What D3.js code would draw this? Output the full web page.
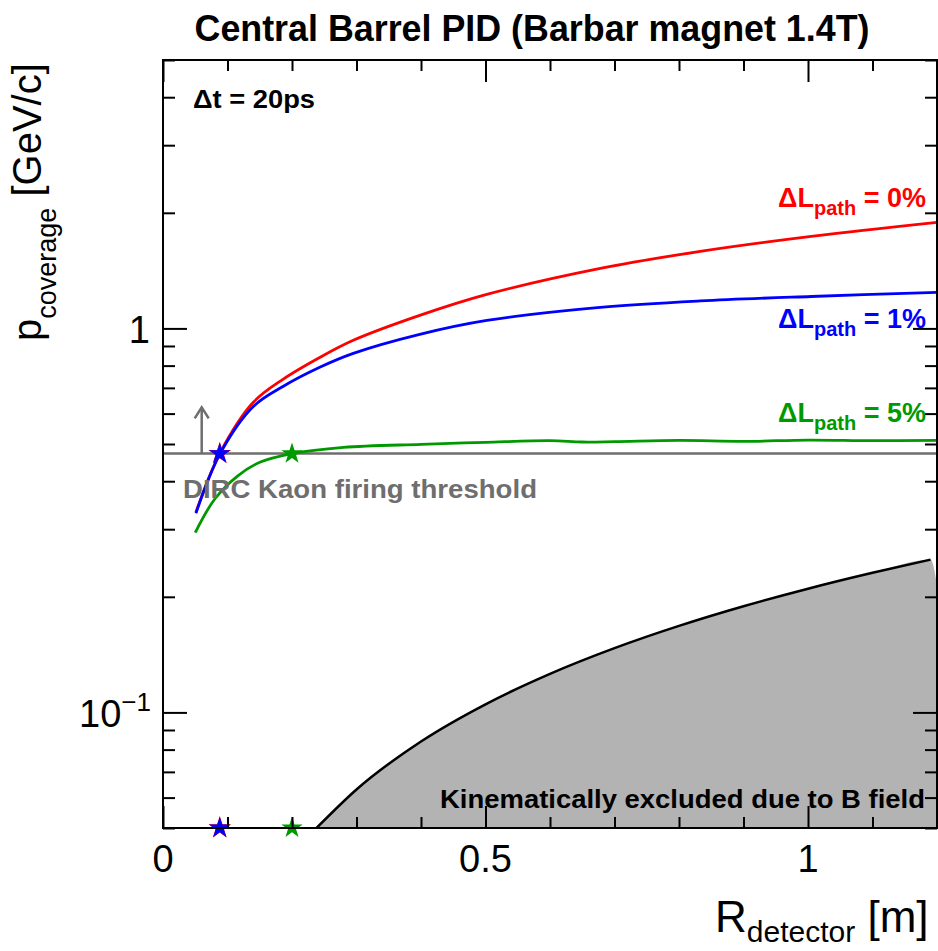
<!DOCTYPE html>
<html><head><meta charset="utf-8">
<script src="https://cdn.jsdelivr.net/npm/d3@7"></script>
<style>
body{margin:0;background:#fff}
text{font-family:"Liberation Sans",Arial,Helvetica,sans-serif}
</style>
</head><body>
<svg id="chart" width="938" height="951"></svg>
<script>
// p_coverage [GeV/c] versus R_detector [m] for three path-length uncertainties
const rPath0 = [0.051, 0.088, 0.14, 0.186, 0.243, 0.295, 0.398, 0.502, 0.678, 0.833, 1.005, 1.2];
const pPath0 = [0.332, 0.472, 0.642, 0.737, 0.840, 0.931, 1.081, 1.226, 1.433, 1.587, 1.736, 1.888];

const rPath1 = [0.051, 0.088, 0.14, 0.186, 0.243, 0.295, 0.398, 0.502, 0.678, 0.833, 1.005, 1.2];
const pPath1 = [0.330, 0.470, 0.626, 0.706, 0.792, 0.861, 0.965, 1.049, 1.134, 1.179, 1.211, 1.241];

const rPath5 = [0.05, 0.08, 0.115, 0.15, 0.2, 0.28, 0.4, 0.5, 0.6, 0.65, 0.7, 0.8, 0.9, 1.0, 1.1, 1.2];
const pPath5 = [0.294, 0.359, 0.412, 0.448, 0.472, 0.49, 0.499, 0.505, 0.51, 0.506, 0.507, 0.511, 0.508, 0.512, 0.51, 0.511];

// DIRC kaon firing threshold and where each curve crosses it
const kaonThreshold = 0.472;
const arrowTop = 0.623;
const arrowR = 0.06;
const crossR = [0.088, 0.2];            // 0% / 1% crossing, 5% crossing
const crossColor = ["#0000ff", "#009900"];

// Minimum transverse momentum reaching R_detector in the field
const rKin = [0.238, 0.3, 0.4, 0.5, 0.6, 0.7, 0.8, 0.9, 1.0, 1.1, 1.19];
const pKin = [0.05, 0.063, 0.084, 0.105, 0.126, 0.147, 0.168, 0.189, 0.21, 0.231, 0.25];
const rKinEdge = 1.2, pKinEdge = 0.215;

// Axis ticks
const xMajor = [0, 0.5, 1];
const xMinor = [0.1, 0.2, 0.3, 0.4, 0.6, 0.7, 0.8, 0.9, 1.1];
const yMajor = [0.1, 1];
const yMinor = [0.05, 0.06, 0.07, 0.08, 0.09, 0.2, 0.3, 0.4, 0.5, 0.6, 0.7, 0.8, 0.9, 2, 3, 4, 5];

const svg = d3.select("#chart");
const L = 163, R = 937, T = 60, B = 828;
const x = d3.scaleLinear().domain([0, 1.2]).range([L, R]);
const y = d3.scaleLog().domain([0.05, 5]).range([B, T]);

svg.append("defs").append("clipPath").attr("id", "plot")
  .append("rect").attr("x", L).attr("y", T).attr("width", R - L).attr("height", B - T);

const plot = svg.append("g").attr("clip-path", "url(#plot)");

// Kinematically excluded region
const kinFill = rKin.map((r, i) => [r, pKin[i]]).concat([[rKinEdge, pKinEdge]]);
plot.append("path")
  .attr("d", d3.area().x(d => x(d[0])).y0(y(0.05)).y1(d => y(d[1])).curve(d3.curveMonotoneX)(kinFill))
  .attr("fill", "#b3b3b3");
plot.append("path")
  .attr("d", d3.line().x((r) => x(r)).y((r, i) => y(pKin[i])).curve(d3.curveMonotoneX)(rKin))
  .attr("fill", "none").attr("stroke", "#000").attr("stroke-width", 2.5);

// Threshold line
plot.append("line")
  .attr("x1", L).attr("x2", R).attr("y1", y(kaonThreshold)).attr("y2", y(kaonThreshold))
  .attr("stroke", "#6e6e6e").attr("stroke-width", 2.5);

// Arrow above threshold
const ax = x(arrowR), ayTop = y(arrowTop);
plot.append("line").attr("x1", ax).attr("x2", ax)
  .attr("y1", y(kaonThreshold)).attr("y2", ayTop)
  .attr("stroke", "#6e6e6e").attr("stroke-width", 2.5);
plot.append("polyline")
  .attr("points", `${ax - 7},${ayTop + 11} ${ax},${ayTop} ${ax + 7},${ayTop + 11}`)
  .attr("fill", "none").attr("stroke", "#6e6e6e").attr("stroke-width", 2.5);

// Coverage curves
const curve = (rs, ps, color) => {
  plot.append("path")
    .attr("d", d3.line().x(r => x(r)).y((r, i) => y(ps[i])).curve(d3.curveCatmullRom.alpha(0.5))(rs))
    .attr("fill", "none").attr("stroke", color).attr("stroke-width", 2.8);
};
curve(rPath5, pPath5, "#009900");
curve(rPath0, pPath0, "#ff0000");
curve(rPath1, pPath1, "#0000ff");

// Crossing stars (on threshold and projected onto the axis)
const star = d3.symbol().type(d3.symbolStar);
const drawStar = (r, p, color, size) => {
  svg.append("path").attr("d", star.size(size)())
    .attr("transform", `translate(${x(r)},${y(p)})`).attr("fill", color);
};
drawStar(crossR[0], kaonThreshold, "#ff0000", 160);
drawStar(crossR[0], 0.05, "#ff0000", 160);
crossR.forEach((r, i) => {
  drawStar(r, kaonThreshold, crossColor[i], 140);
  drawStar(r, 0.05, crossColor[i], 140);
});

// Axes ticks (all pointing inward)
const tickAxis = (axisFn, scale, vals, len, tx, ty) => {
  svg.append("g").attr("transform", `translate(${tx},${ty})`)
    .call(axisFn(scale).tickValues(vals).tickSize(len).tickFormat(""))
    .call(g => g.select(".domain").remove())
    .selectAll("line").attr("stroke", "#000").attr("stroke-width", 2);
};
tickAxis(d3.axisBottom, x, xMajor, -22, 0, B);
tickAxis(d3.axisBottom, x, xMinor, -11, 0, B);
tickAxis(d3.axisTop, x, xMajor, -22, 0, T);
tickAxis(d3.axisTop, x, xMinor, -11, 0, T);
tickAxis(d3.axisLeft, y, yMajor, -24, L, 0);
tickAxis(d3.axisLeft, y, yMinor, -12, L, 0);
tickAxis(d3.axisRight, y, yMajor, -24, R, 0);
tickAxis(d3.axisRight, y, yMinor, -12, R, 0);

// Frame
svg.append("rect").attr("x", L).attr("y", T).attr("width", R - L).attr("height", B - T)
  .attr("fill", "none").attr("stroke", "#000").attr("stroke-width", 2);

// Tick labels
const xLabels = ["0", "0.5", "1"];
xMajor.forEach((v, i) => {
  svg.append("text").attr("x", x(v)).attr("y", 872).attr("text-anchor", "middle")
    .attr("font-size", 38).text(xLabels[i]);
});
svg.append("text").attr("x", 150).attr("y", y(1) + 15).attr("text-anchor", "end")
  .attr("font-size", 38).text("1");
const tTen = svg.append("text").attr("x", 151).attr("y", y(0.1) + 15).attr("text-anchor", "end")
  .attr("font-size", 38);
tTen.append("tspan").text("10");
tTen.append("tspan").attr("font-size", 26).attr("dy", -16).text("\u22121");

// Axis titles
const xt = svg.append("text").attr("x", 715).attr("y", 932).attr("font-size", 44);
xt.append("tspan").text("R");
xt.append("tspan").attr("font-size", 30).attr("dy", 10).text("detector");
xt.append("tspan").attr("dy", -10).text(" [m]");

const yt = svg.append("text").attr("transform", "translate(41,341) rotate(-90)").attr("font-size", 40);
yt.append("tspan").text("p");
yt.append("tspan").attr("font-size", 27).attr("dy", 15).text("coverage");
yt.append("tspan").attr("dy", -15).text(" [GeV/c]");

// Title
svg.append("text").attr("x", 532).attr("y", 41).attr("text-anchor", "middle")
  .attr("font-size", 36).attr("font-weight", "bold")
  .attr("textLength", 675).attr("lengthAdjust", "spacingAndGlyphs")
  .text("Central Barrel PID (Barbar magnet 1.4T)");

// Annotations
svg.append("text").attr("x", 193).attr("y", 108).attr("font-size", 26).attr("font-weight", "bold")
  .attr("textLength", 122).attr("lengthAdjust", "spacingAndGlyphs").text("\u0394t = 20ps");

svg.append("text").attr("x", 183).attr("y", 498).attr("font-size", 26).attr("font-weight", "bold")
  .attr("fill", "#6e6e6e").attr("textLength", 354).attr("lengthAdjust", "spacingAndGlyphs")
  .text("DIRC Kaon firing threshold");

svg.append("text").attr("x", 440).attr("y", 808).attr("font-size", 26).attr("font-weight", "bold")
  .attr("textLength", 485).attr("lengthAdjust", "spacingAndGlyphs")
  .text("Kinematically excluded due to B field");

const pathLabels = [
  {txt: "0%", color: "#ff0000", yb: 207},
  {txt: "1%", color: "#0000ff", yb: 328},
  {txt: "5%", color: "#009900", yb: 422}
];
pathLabels.forEach(d => {
  const t = svg.append("text").attr("x", 926).attr("y", d.yb).attr("text-anchor", "end")
    .attr("font-size", 27).attr("font-weight", "bold").attr("fill", d.color);
  t.append("tspan").text("\u0394L");
  t.append("tspan").attr("font-size", 20).attr("dy", 8).text("path");
  t.append("tspan").attr("dy", -8).text(" = " + d.txt);
});
</script>
</body></html>
